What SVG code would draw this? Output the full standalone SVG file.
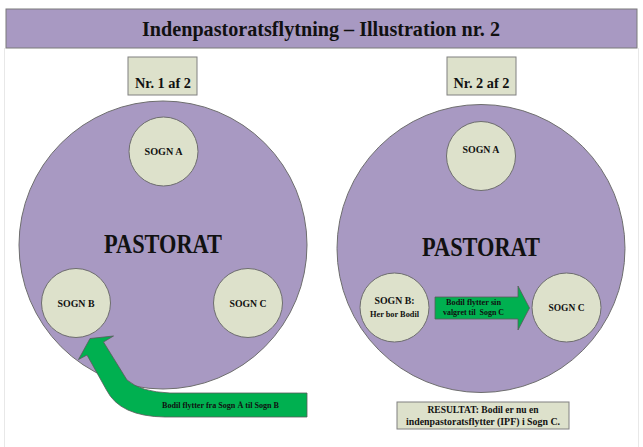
<svg xmlns="http://www.w3.org/2000/svg" width="643" height="447" viewBox="0 0 643 447">
<style>
text{font-family:"Liberation Serif","DejaVu Serif",serif;font-weight:bold;fill:#111;text-anchor:middle}
.past{fill:#A899C2;stroke:#6E6E6E;stroke-width:1}
.sogn{fill:#DDE1CB;stroke:#6E6E6E;stroke-width:1}
.box{fill:#DDE1CB;stroke:#808080;stroke-width:1}
.arrow{fill:#00B050;stroke:#5A5A5A;stroke-width:0.8}
.s{font-size:10.5px}
.big{font-size:27px}
</style>
<rect x="0" y="0" width="643" height="447" fill="#fff"/>
<line x1="4.5" y1="48" x2="4.5" y2="447" stroke="#E8E8E8"/>
<line x1="638.5" y1="48" x2="638.5" y2="447" stroke="#E8E8E8"/>
<g id="title">
<rect x="6" y="9" width="631" height="39" fill="#A899C2" stroke="#7A7A7A"/>
<text x="321" y="36" font-size="21" textLength="358" lengthAdjust="spacingAndGlyphs">Indenpastoratsflytning – Illustration nr. 2</text>
</g>
<g id="label1">
<rect class="box" x="128" y="57" width="69" height="38"/>
<text x="163" y="88" font-size="14" textLength="56" lengthAdjust="spacingAndGlyphs">Nr. 1 af 2</text>
</g>
<g id="label2">
<rect class="box" x="447" y="57" width="69" height="38"/>
<text x="481.5" y="88" font-size="14" textLength="56" lengthAdjust="spacingAndGlyphs">Nr. 2 af 2</text>
</g>
<g id="pastorat1">
<circle class="past" cx="163" cy="245" r="144"/>
<text class="big" x="163" y="253" textLength="118" lengthAdjust="spacingAndGlyphs">PASTORAT</text>
</g>
<g id="sognA1"><circle class="sogn" cx="163.5" cy="151.5" r="34.5"/><text class="s" x="163.5" y="155" textLength="38" lengthAdjust="spacingAndGlyphs">SOGN A</text></g>
<g id="sognB1"><circle class="sogn" cx="76" cy="303" r="34.5"/><text class="s" x="76" y="306.5" textLength="37" lengthAdjust="spacingAndGlyphs">SOGN B</text></g>
<g id="sognC1"><circle class="sogn" cx="248" cy="303" r="34.5"/><text class="s" x="248" y="306.5" textLength="37" lengthAdjust="spacingAndGlyphs">SOGN C</text></g>
<g id="pastorat2">
<circle class="past" cx="481" cy="248.5" r="144"/>
<text class="big" x="481" y="256" textLength="118" lengthAdjust="spacingAndGlyphs">PASTORAT</text>
</g>
<g id="sognA2"><circle class="sogn" cx="481" cy="156" r="34.5"/><text class="s" x="481" y="153" textLength="37" lengthAdjust="spacingAndGlyphs">SOGN A</text></g>
<g id="sognB2"><circle class="sogn" cx="394.5" cy="307.5" r="34.5"/><text x="394.5" y="304" font-size="11" textLength="40" lengthAdjust="spacingAndGlyphs">SOGN B:</text><text x="394.5" y="317" font-size="8" textLength="49" lengthAdjust="spacingAndGlyphs">Her bor Bodil</text></g>
<g id="sognC2"><circle class="sogn" cx="566.5" cy="307.5" r="34.5"/><text x="566.5" y="311" font-size="10.5" textLength="36" lengthAdjust="spacingAndGlyphs">SOGN C</text></g>
<g id="connectors">
<path class="arrow" d="M307 393 L170 393 Q141 392 127 380 L103.5 342 L113.5 336 L90 338.5 L78.5 359.5 L87 355 L106.5 390 Q120 416.5 165 417 L307 417 Z"/>
<text x="220.5" y="408" font-size="8" textLength="117" lengthAdjust="spacingAndGlyphs">Bodil flytter fra Sogn Å til Sogn B</text>
<path class="arrow" d="M435 297 L518 297 L518 286 L529.5 308 L518 330 L518 319 L435 319 Z"/>
<text x="473.5" y="305" font-size="8.5" textLength="55" lengthAdjust="spacingAndGlyphs">Bodil flytter sin</text>
<text x="473.5" y="315" font-size="8.5" textLength="61" lengthAdjust="spacingAndGlyphs" xml:space="preserve">valgret til  Sogn C</text>
</g>
<g id="result">
<rect class="box" x="397" y="402" width="172" height="27"/>
<text x="483" y="413" font-size="9.5" textLength="111" lengthAdjust="spacingAndGlyphs">RESULTAT: Bodil er nu en</text>
<text x="483" y="424.5" font-size="9.5" textLength="154" lengthAdjust="spacingAndGlyphs">indenpastoratsflytter (IPF) i Sogn C.</text>
</g>
</svg>
